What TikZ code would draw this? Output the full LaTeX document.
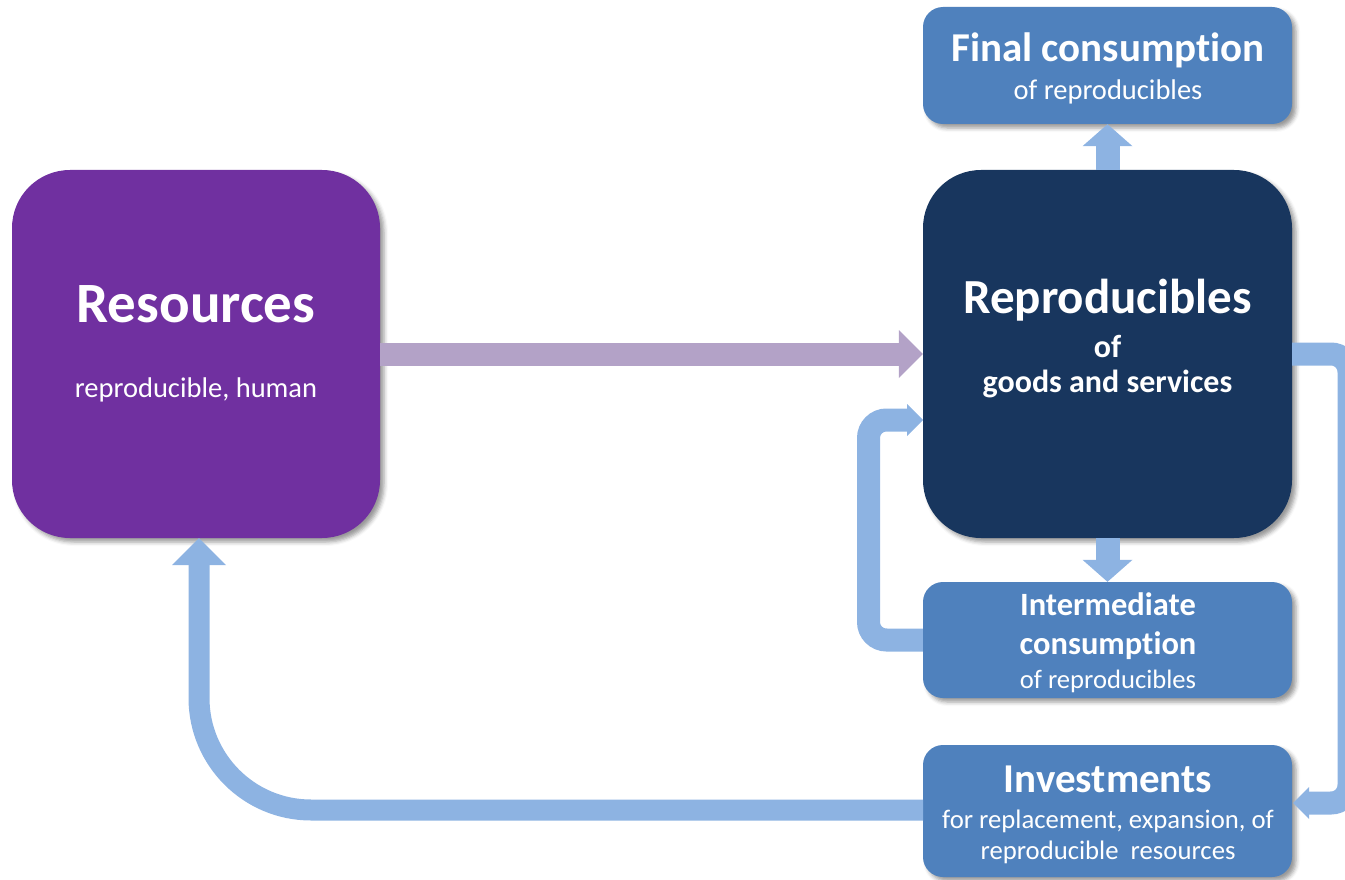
\documentclass[tikz,border=0pt]{standalone}
\usepackage{fontspec}
\setmainfont{Carlito}[Ligatures=NoCommon]
\usetikzlibrary{arrows.meta,shadows.blur}
\definecolor{resPurple}{HTML}{7030A0}
\definecolor{repNavy}{HTML}{18365E}
\definecolor{boxBlue}{HTML}{4F81BD}
\definecolor{arrBlue}{HTML}{8DB3E2}
\definecolor{arrPurple}{HTML}{B3A2C7}
\newcommand{\fsz}[1]{\fontsize{#1}{#1}\selectfont}
\begin{document}
\begin{tikzpicture}[x=1pt,y=-1pt,
  shadowed/.style={blur shadow={shadow xshift=4pt, shadow yshift=-4pt, shadow blur radius=4pt, shadow opacity=40}},
  bigbox/.style={rectangle, rounded corners=58pt, minimum width=368pt, minimum height=368pt, inner sep=0pt, shadowed},
  smallbox/.style={rectangle, rounded corners=20pt, fill=boxBlue, minimum width=369pt, inner sep=0pt, shadowed},
  txt/.style={text=white, anchor=base, inner sep=0pt, align=center},
  purplearrow/.style={line width=23pt, draw=arrPurple, -{Triangle[length=24pt,width=48pt,line width=0pt]}},
  vertarrow/.style={line width=24pt, draw=arrBlue, -{Triangle[length=22pt,width=50pt,line width=0pt]}},
  looparrow/.style={line width=23pt, draw=arrBlue, rounded corners=18pt, -{Triangle[length=16pt,width=32pt,line width=0pt]}},
  backarrow/.style={line width=21pt, draw=arrBlue, rounded corners=112pt, -{Triangle[length=27pt,width=54pt,line width=0pt]}}
]
\useasboundingbox (0,0) rectangle (1345,880);
\clip (0,0) rectangle (1345,880);

% boxes
\node[bigbox, fill=resPurple, minimum width=368pt] (res) at (196,354) {};
\node[bigbox, fill=repNavy, minimum width=369pt] (rep) at (1107.5,354) {};
\node[smallbox, minimum height=117pt] (final) at (1107.5,65.5) {};
\node[smallbox, minimum height=116pt] (inter) at (1107.5,640) {};
\node[smallbox, minimum height=132pt] (inv) at (1107.5,811) {};

% texts
\node[txt, font=\bfseries\fsz{57}] (resT) at (196,322) {Resources};
\node[txt, font=\fsz{28.5}] (resS) at (196,397) {reproducible, human};
\node[txt, font=\bfseries\fsz{49}] (repT) at (1107.5,313) {Reproducibles};
\node[txt, font=\bfseries\fsz{32}] (repO) at (1107.5,357) {of};
\node[txt, font=\bfseries\fsz{32}] (repS) at (1107.5,392) {goods and services};
\node[txt, font=\bfseries\fsz{41}] (finT) at (1108,62) {Final consumption};
\node[txt, font=\fsz{28.5}] (finS) at (1108,100) {of reproducibles};
\node[txt, font=\bfseries\fsz{32.5}] (intT1) at (1108,615) {Intermediate};
\node[txt, font=\bfseries\fsz{32.5}] (intT2) at (1108,654) {consumption};
\node[txt, font=\fsz{26.6}] (intS) at (1108,688) {of reproducibles};
\node[txt, font=\bfseries\fsz{41}] (invT) at (1108,792) {Investments};
\node[txt, font=\fsz{26.7}] (invS1) at (1108,828) {for replacement, expansion, of};
\node[txt, font=\fsz{26.7}] (invS2) at (1108,859) {reproducible~ resources};

% helper coordinates
\coordinate (ll1) at (868.5,640);
\coordinate (ll2) at (868.5,420);
\coordinate (llend) at (923,420);
\coordinate (rl1) at (1349,354);
\coordinate (rl2) at (1349,803);
\coordinate (rlend) at (1293,803);
\coordinate (bstart) at (923,810);
\coordinate (b1) at (199,810);
\coordinate (bend) at (199,538);

% connectors
\draw[purplearrow] (res.east) -- (rep.west);
\draw[vertarrow] (rep.north) -- (final.south);
\draw[vertarrow] (rep.south) -- (inter.north);
\draw[looparrow] (inter.west) -- (ll1) -- (ll2) -- (llend);
\draw[looparrow] (rep.east) -- (rl1) -- (rl2) -- (rlend);
\draw[backarrow] (bstart) -- (b1) -- (bend);
\end{tikzpicture}
\end{document}
